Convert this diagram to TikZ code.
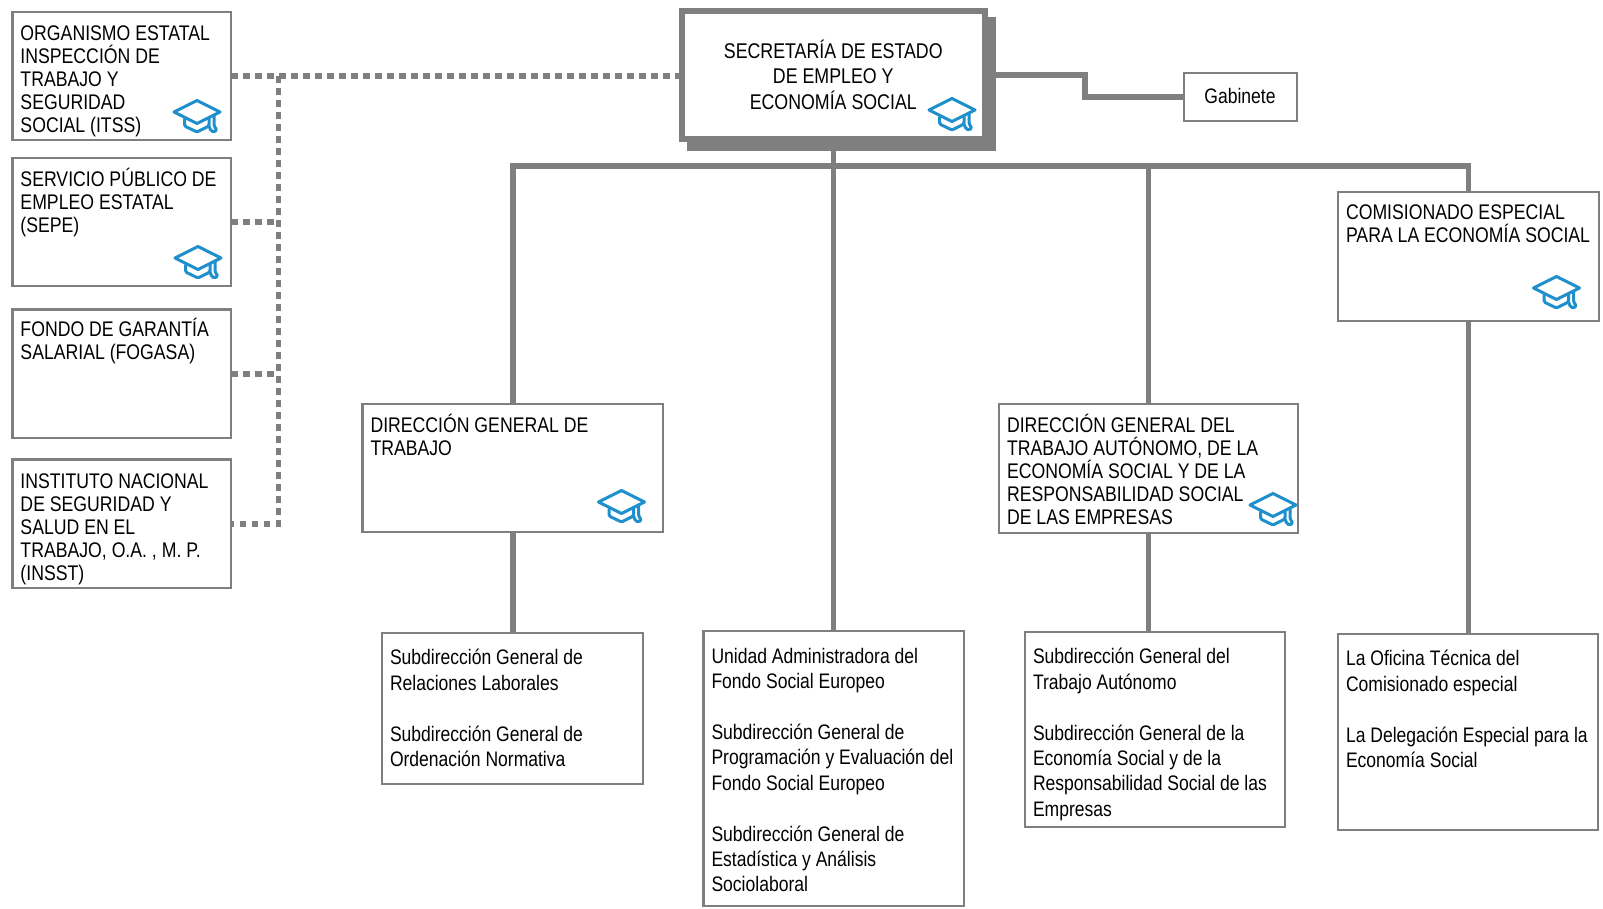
\documentclass[tikz,border=0pt]{standalone}
\usepackage{fontspec}
\setmainfont[FakeStretch=0.835]{Liberation Sans}
\definecolor{linegray}{HTML}{7F7F7F}
\definecolor{capblue}{HTML}{2090CC}
\tikzset{
  base/.style={draw=linegray,line width=2.6pt,fill=white,inner sep=0pt,outer sep=0pt,font=\fontsize{21.15}{23}\selectfont},
  low/.style={base,font=\fontsize{21}{25.4}\selectfont},
  thinbox/.style={base,line width=2pt,font=\fontsize{21}{23}\selectfont},
  secbox/.style={base,line width=6pt,font=\fontsize{21.3}{25.5}\selectfont},
  solidline/.style={draw=linegray,line width=5.5pt},
  dotline/.style={draw=linegray,line width=5.5pt,dash pattern=on 6.5pt off 5.5pt},
  gradcap/.pic={
    \draw[capblue,line width=3pt,line join=round,line cap=round,fill=white]
      (-23,0) -- (0,-11.5) -- (23,0) -- (0,11.5) -- cycle;
    \draw[capblue,line width=3pt,line join=round,line cap=round,rounded corners=1.5pt]
      (-12.5,7) -- (-12.5,14) -- (0,20) -- (12,14) -- (12,6)
      (17,3) -- (17,14) -- (20,18) -- (17,20) -- (14,19) -- (12,14);
  }
}
% name, x0, y0, x1, y1, style, top padding, text
\newcommand{\orgbox}[8]{%
  \pgfmathsetmacro{\bw}{#4-#2}\pgfmathsetmacro{\bh}{#5-#3}%
  \pgfmathsetmacro{\bcx}{(#2+#4)/2}\pgfmathsetmacro{\bcy}{(#3+#5)/2}%
  \node[#6,minimum width=\bw pt,minimum height=\bh pt] (#1) at (\bcx,\bcy)
    {\parbox[c][\bh pt][t]{\bw pt}{\raggedright\leftskip=8pt\vspace*{#7pt}#8\par}};%
}
\begin{document}
\begin{tikzpicture}[x=1pt,y=-1pt]
\useasboundingbox (0,0) rectangle (1603,908);
% shadow of the top box
\node[fill=linegray,inner sep=0pt,outer sep=0pt,minimum width=309pt,minimum height=134pt] (secshadow) at (841.5,84) {};
% boxes
\node[secbox,minimum width=302.5pt,minimum height=128pt,align=center] (sec) at (833.25,74.5)
  {SECRETARÍA DE ESTADO\\DE EMPLEO Y\\ECONOMÍA SOCIAL};
\node[thinbox,minimum width=113pt,minimum height=48pt] (gab) at (1240,97) {\raisebox{2pt}{Gabinete}};
\orgbox{itss}{12.5}{12}{231}{140}{base}{13.5}{ORGANISMO ESTATAL\\INSPECCIÓN DE\\TRABAJO Y\\SEGURIDAD\\SOCIAL (ITSS)}
\orgbox{sepe}{12.5}{158}{231}{286}{base}{10}{SERVICIO PÚBLICO DE\\EMPLEO ESTATAL\\(SEPE)}
\orgbox{fogasa}{12.5}{309.5}{231}{438}{base}{9}{FONDO DE GARANTÍA\\SALARIAL (FOGASA)}
\orgbox{insst}{12.5}{459.5}{231}{588}{base}{14}{INSTITUTO NACIONAL\\DE SEGURIDAD Y\\SALUD EN EL\\TRABAJO, O.A. , M. P.\\(INSST)}
\orgbox{dgt}{362.5}{404}{663}{532}{base}{10}{DIRECCIÓN GENERAL DE\\TRABAJO}
\orgbox{dga}{999}{404}{1298}{533}{base}{10}{DIRECCIÓN GENERAL DEL\\TRABAJO AUTÓNOMO, DE LA\\ECONOMÍA SOCIAL Y DE LA\\RESPONSABILIDAD SOCIAL\\DE LAS EMPRESAS}
\orgbox{com}{1338}{192}{1599}{321}{base}{13}{COMISIONADO ESPECIAL\\PARA LA ECONOMÍA SOCIAL}
\orgbox{subt}{382}{633}{643}{784}{low}{16.5}{Subdirección General de\\Relaciones Laborales\\\mbox{}\\Subdirección General de\\Ordenación Normativa}
\orgbox{unidad}{703.5}{631}{964}{906}{low}{17}{Unidad Administradora del\\Fondo Social Europeo\\\mbox{}\\Subdirección General de\\Programación y Evaluación del\\Fondo Social Europeo\\\mbox{}\\Subdirección General de\\Estadística y Análisis\\Sociolaboral}
\orgbox{suba}{1025}{632}{1285}{827}{low}{16.5}{Subdirección General del\\Trabajo Autónomo\\\mbox{}\\Subdirección General de la\\Economía Social y de la\\Responsabilidad Social de las\\Empresas}
\orgbox{ofi}{1338}{634}{1598}{830}{low}{16.5}{La Oficina Técnica del\\Comisionado especial\\\mbox{}\\La Delegación Especial para la\\Economía Social}
% connectors
\coordinate (bus) at (833.25,166);
\coordinate (gabx) at (1085,75);
\coordinate (dotx) at (278.5,76);
\draw[solidline] (secshadow.east |- gabx) -- (gabx) -- (gabx |- gab.west) -- (gab.west);
\draw[solidline] (secshadow.south -| sec.south) -- (sec.south |- unidad.north);
\draw[solidline] (dgt.north) -- (dgt.north |- bus) -- (com.north |- bus) -- (com.north);
\draw[solidline] (dga.north) -- (dga.north |- bus);
\draw[solidline] (dgt.south) -- (dgt.south |- subt.north);
\draw[solidline] (dga.south) -- (dga.south |- suba.north);
\draw[solidline] (com.south) -- (com.south |- ofi.north);
\draw[dotline] (itss.east) -- (itss.east -| sec.west);
\draw[dotline] (dotx) -- (dotx |- insst.east) -- (insst.east);
\draw[dotline] (sepe.east) -- (sepe.east -| dotx);
\draw[dotline] (fogasa.east) -- (fogasa.east -| dotx);
% caps
\pic at (952,110) {gradcap};
\pic at (197,112) {gradcap};
\pic at (198,258) {gradcap};
\pic at (1556.5,288) {gradcap};
\pic at (621.5,502) {gradcap};
\pic at (1273,505) {gradcap};
\end{tikzpicture}
\end{document}
